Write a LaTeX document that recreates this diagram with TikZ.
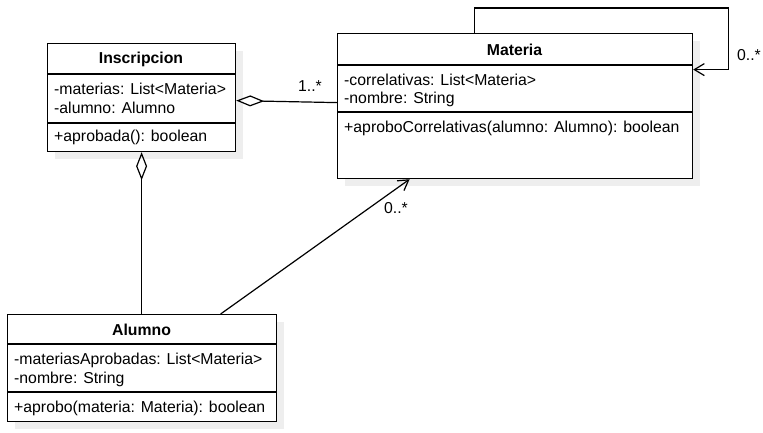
\documentclass[tikz,border=0pt]{standalone}
\usepackage{fontspec}
\setmainfont{Liberation Sans}
\usetikzlibrary{arrows.meta}
\definecolor{shadowc}{HTML}{EEEEEE}
\begin{document}
\begin{tikzpicture}[x=1pt,y=-1pt,
  every node/.style={font=\fontsize{15.8}{19}\selectfont, inner sep=0pt},
  umlbox/.style={draw=black, line width=1.2pt, fill=white, rectangle, anchor=north west},
  title/.style={font=\fontsize{15.8}{19}\selectfont\bfseries, anchor=center},
  row/.style={anchor=west},
  divider/.style={line width=1.2pt},
  conn/.style={line width=1.2pt},
  openarrow/.style={-{Straight Barb[length=10pt,width=12pt,line width=1.2pt]}},
  agg/.style={-{Diamond[open,length=28pt,width=11pt,line width=1.2pt]}},
  mult/.style={font=\fontsize{15.8}{19}\selectfont}
]
\useasboundingbox (0,0) rectangle (763,432);

% shadows
\fill[shadowc] (55,51) rectangle (243,159);
\fill[shadowc] (345,41) rectangle (700,186);
\fill[shadowc] (15,322) rectangle (284,429);

% Inscripcion
\node[umlbox, minimum width=188pt, minimum height=108pt] (insc) at (47,43) {};
\draw[divider] (47,74) -- (235,74);
\draw[divider] (47,123) -- (235,123);
\node[title] (inscT) at (141,59) {Inscripcion};
\node[row] (inscA1) at (54,89) {-materias: List<Materia>};
\node[row] (inscA2) at (54,108) {-alumno: Alumno};
\node[row] (inscM1) at (54,137) {+aprobada(): boolean};

% Materia
\node[umlbox, minimum width=355pt, minimum height=145pt] (mat) at (337,33) {};
\draw[divider] (337,65) -- (692,65);
\draw[divider] (337,112) -- (692,112);
\node[title] (matT) at (514.5,50) {Materia};
\node[row] (matA1) at (344,80) {-correlativas: List<Materia>};
\node[row] (matA2) at (344,99) {-nombre: String};
\node[row] (matM1) at (344,128) {+aproboCorrelativas(alumno: Alumno): boolean};

% Alumno
\node[umlbox, minimum width=269pt, minimum height=107pt] (alu) at (7,314) {};
\draw[divider] (7,344) -- (276,344);
\draw[divider] (7,392) -- (276,392);
\node[title] (aluT) at (141.5,330) {Alumno};
\node[row] (aluA1) at (14,360) {-materiasAprobadas: List<Materia>};
\node[row] (aluA2) at (14,379) {-nombre: String};
\node[row] (aluM1) at (14,408) {+aprobo(materia: Materia): boolean};

% connectors
\draw[conn, agg] ([yshift=3.5pt]mat.west) -- ([yshift=-3pt]insc.east);
\draw[conn, agg] (alu.north -| insc.south) -- (insc.south);
\draw[conn, openarrow] ([xshift=78.5pt]alu.north) -- ([xshift=-105.5pt]mat.south);
\coordinate (loopA) at ([xshift=-40.5pt]mat.north);
\coordinate (loopB) at ([yshift=36.5pt]mat.east);
\draw[conn, openarrow] (loopA) -- ++(0,-25) -| ([xshift=35pt]loopB) -- (loopB);

% multiplicities
\node[mult] (m1) at (310,86) {1..*};
\node[mult] (m2) at (396,208) {0..*};
\node[mult] (m3) at (749,55) {0..*};
\end{tikzpicture}
\end{document}
